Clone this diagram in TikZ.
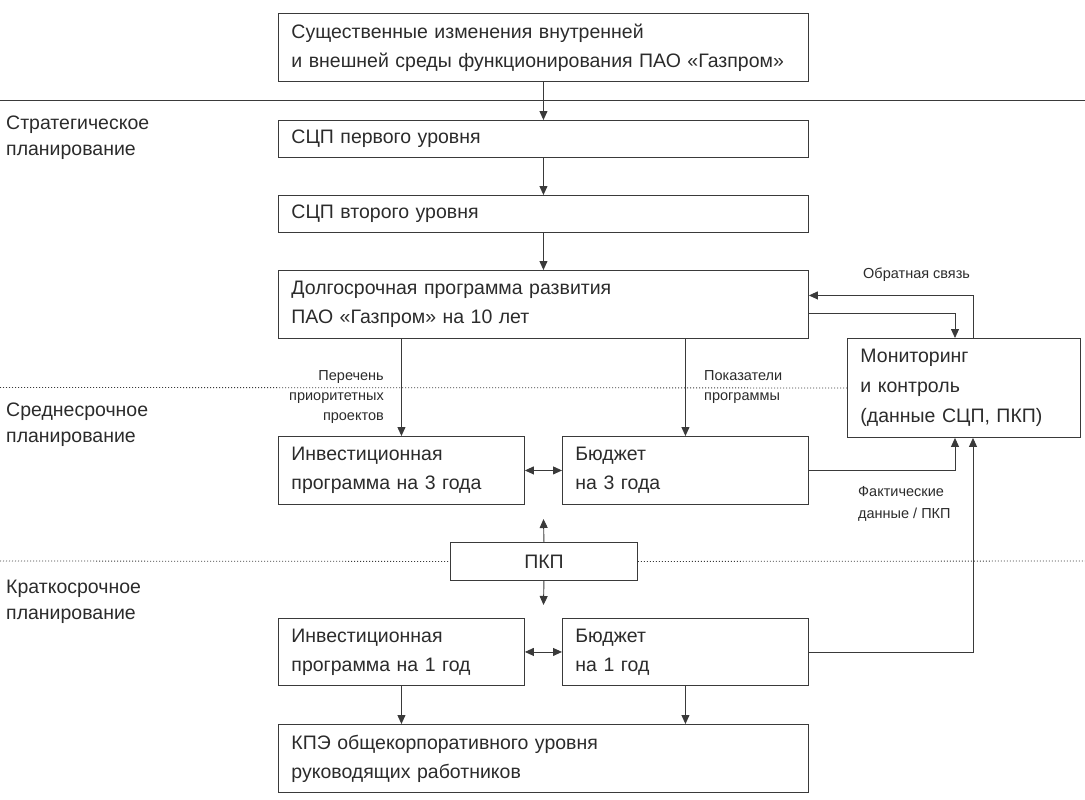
\documentclass[tikz,border=0pt]{standalone}
\usepackage{fontspec}
\setmainfont{Liberation Sans}
\usepackage{tikz}
\usetikzlibrary{arrows.meta,calc}
\definecolor{linegray}{HTML}{3A3A3A}
\definecolor{textgray}{HTML}{2B2B2B}

\begin{document}
\begin{tikzpicture}[x=1pt,y=-1pt,
  box/.style={draw=linegray, line width=0.9pt, anchor=north west, align=left,
    inner xsep=13pt, inner ysep=0pt, text=textgray,
    font=\fontsize{19.5}{29}\selectfont},
  widebox/.style={box, text width=504pt, minimum width=530pt},
  halfbox/.style={box, text width=220pt, minimum width=246pt},
  conn/.style={draw=linegray, line width=0.9pt, -{Triangle[length=9pt,width=8pt]}},
  biconn/.style={conn, {Triangle[length=9pt,width=8pt]}-{Triangle[length=9pt,width=8pt]}},
  note/.style={inner sep=0pt, text=textgray, font=\fontsize{14.5}{20}\selectfont},
  level/.style={anchor=west, align=left, inner sep=0pt, text=textgray,
    font=\fontsize{19.5}{26}\selectfont},
  sep/.style={draw=linegray, line width=0.8pt},
  dotsep/.style={sep, dash pattern=on 1pt off 2pt}]
\useasboundingbox (0,0) rectangle (1085,800);

% boxes
\node[widebox, minimum height=68pt] (change) at (278,13)
  {Существенные изменения внутренней\\и внешней среды функционирования ПАО «Газпром»};
\node[widebox, minimum height=37pt] (scp1) at (278,120) {СЦП первого уровня};
\node[widebox, minimum height=37pt] (scp2) at (278,195) {СЦП второго уровня};
\node[widebox, minimum height=68pt] (ltp) at (278,270)
  {Долгосрочная программа развития\\ПАО «Газпром» на 10 лет};
\node[box, text width=207pt, minimum width=233pt, minimum height=99pt, font=\fontsize{19.5}{30}\selectfont] (monitor) at (847,338)
  {Мониторинг\\и контроль\\(данные СЦП, ПКП)};
\node[halfbox, minimum height=68pt] (inv3) at (278,436) {Инвестиционная\\программа на 3 года};
\node[halfbox, minimum height=68pt] (bud3) at (562,436) {Бюджет\\на 3 года};
\node[box, text width=161pt, minimum width=187pt, minimum height=38pt, align=center] (pkp) at (450,542) {ПКП};
\node[halfbox, minimum height=67pt] (inv1) at (278,618) {Инвестиционная\\программа на 1 год};
\node[halfbox, minimum height=67pt] (bud1) at (562,618) {Бюджет\\на 1 год};
\node[widebox, minimum height=68pt] (kpe) at (278,724)
  {КПЭ общекорпоративного уровня\\руководящих работников};

% planning levels
\node[level] (strat) at (6,138) {Стратегическое\\планирование};
\node[level] (mid) at (6,425) {Среднесрочное\\планирование};
\node[level] (short) at (6,602) {Краткосрочное\\планирование};

\draw[sep] (0,100) -- (1085,100);
\draw[dotsep] (0,387.5) -- (monitor.west);
\draw[dotsep] (0,561) -- (pkp.west);
\draw[dotsep] (pkp.east) -- (1085,561);

% labels
\node[note, anchor=west] (fb) at (863,275) {Обратная связь};
\node[note, anchor=east, align=right] (list) at (384,397) {Перечень\\приоритетных\\проектов};
\node[note, anchor=west, align=left] (idx) at (704,387) {Показатели\\программы};
\node[note, anchor=west, align=left, font=\fontsize{14.5}{22}\selectfont] (fact) at (858,504) {Фактические\\данные / ПКП};

% connectors
\draw[conn] (change) -- (scp1);
\draw[conn] (scp1) -- (scp2);
\draw[conn] (scp2) -- (ltp);
\draw[conn] (ltp.south -| inv3.north) -- (inv3.north);
\draw[conn] (ltp.south -| bud3.north) -- (bud3.north);
\draw[conn] ($(monitor.north west)+(126,0)$) |- ($(ltp.east)+(0,-9)$);
\draw[conn] ($(ltp.east)+(0,9)$) -| ($(monitor.north west)+(108,0)$);
\draw[biconn] (inv3.east) -- (bud3.west);
\draw[conn] (bud3.east) -| ($(monitor.south west)+(108,0)$);
\coordinate (pkpup) at (543.5,519);
\coordinate (pkpdown) at (543.5,605);
\draw[conn] (pkp.north) -- (pkpup);
\draw[conn] (pkp.south) -- (pkpdown);
\draw[biconn] (inv1.east) -- (bud1.west);
\draw[conn] (bud1.east) -| ($(monitor.south west)+(126,0)$);
\draw[conn] (inv1.south) -- (inv1.south |- kpe.north);
\draw[conn] (bud1.south) -- (bud1.south |- kpe.north);
\end{tikzpicture}
\end{document}
